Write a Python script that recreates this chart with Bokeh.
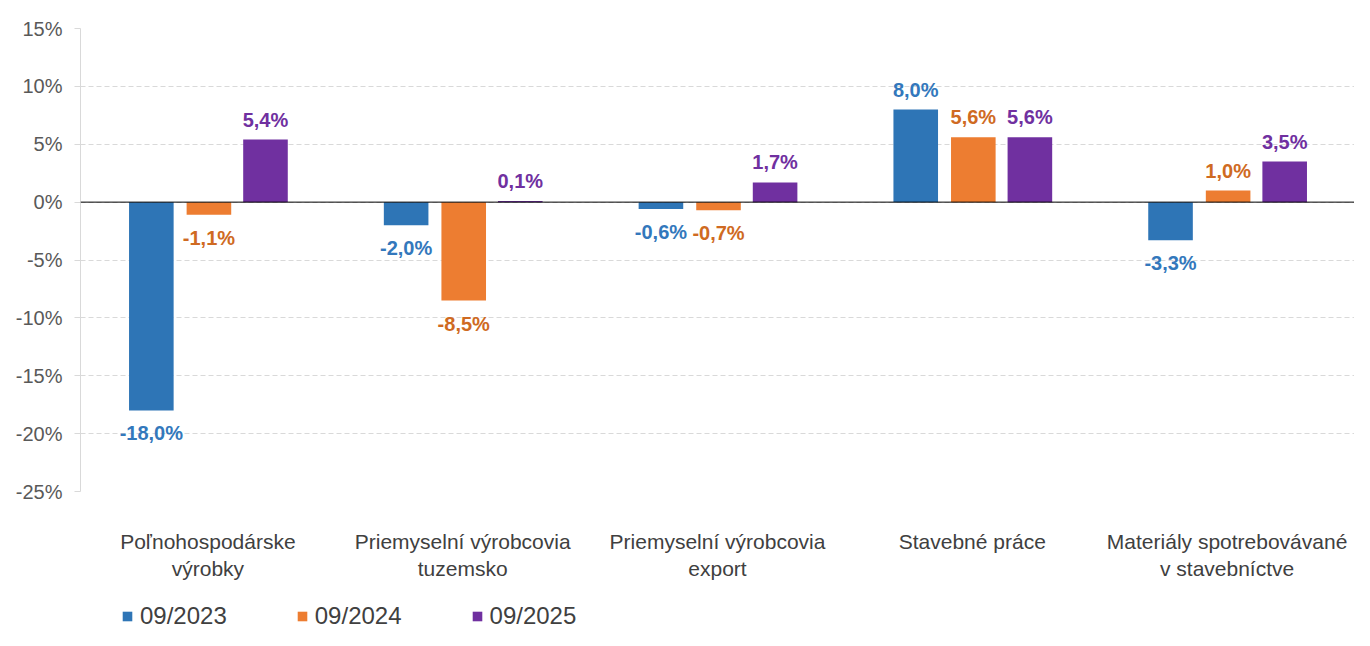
from bokeh.plotting import figure
from bokeh.layouts import column
from bokeh.models import (ColumnDataSource, FactorRange, Range1d, FixedTicker,
                          PrintfTickFormatter, Span, Legend, LegendItem)
from bokeh.transform import dodge
from bokeh.core.properties import value
from bokeh.embed import file_html
from bokeh.resources import INLINE

# ---- data ----
categories = ["Poľnohospodárske\nvýrobky",
              "Priemyselní výrobcovia\ntuzemsko",
              "Priemyselní výrobcovia\nexport",
              "Stavebné práce",
              "Materiály spotrebovávané\nv stavebníctve"]
series_names = ["09/2023", "09/2024", "09/2025"]
values_2023 = [-18.0, -2.0, -0.6, 8.0, -3.3]
values_2024 = [-1.1, -8.5, -0.7, 5.6, 1.0]
values_2025 = [5.4, 0.1, 1.7, 5.6, 3.5]
y_ticks = [-25, -20, -15, -10, -5, 0, 5, 10, 15]

series_values = [values_2023, values_2024, values_2025]
bar_colors = ["#2E75B6", "#ED7D31", "#7030A0"]
label_colors = ["#3378BC", "#CF6A22", "#7030A0"]
offsets = [-0.222, 0.004, 0.226]

FONT = "Liberation Sans"

x_range = FactorRange(factors=categories)
p = figure(width=1354, height=600, output_backend="svg", toolbar_location=None,
           x_range=x_range, y_range=Range1d(-25, 15),
           min_border_left=80, min_border_right=0, min_border_top=28,
           min_border_bottom=109)
p.outline_line_color = None
p.background_fill_color = "white"
p.border_fill_color = "white"

# ---- legend strip below the chart (shares the x range) ----
pl = figure(width=1354, height=30, output_backend="svg", toolbar_location=None,
            min_border_left=80, min_border_right=0, min_border_top=0,
            min_border_bottom=0, x_range=x_range, y_range=Range1d(100, 101))
pl.axis.visible = False
pl.grid.visible = False
pl.outline_line_color = None

items = []
for vals, name, bc, lc, off in zip(series_values, series_names, bar_colors,
                                   label_colors, offsets):
    src = ColumnDataSource(dict(
        cat=categories,
        val=vals,
        lbl=[f"{v:.1f}".replace(".", ",") + "%" for v in vals],
        yoff=[-20 if v >= 0 else 23 for v in vals],
    ))
    p.vbar(x=dodge("cat", off, range=x_range), top="val", bottom=0,
           width=0.175, source=src, fill_color=bc, line_color=None)
    p.text(x=dodge("cat", off, range=x_range), y="val", text="lbl",
           y_offset="yoff", source=src, text_align="center",
           text_baseline="middle", text_font=value(FONT),
           text_font_size="20px", text_font_style="bold", text_color=lc)
    # same bars in the legend strip (outside its visible y range) as legend proxies
    r = pl.vbar(x=dodge("cat", off, range=x_range), top="val", bottom=0,
                width=0.175, source=src, fill_color=bc, line_color=None)
    items.append(LegendItem(label=name, renderers=[r]))

# zero line
p.add_layout(Span(location=0, dimension="width", line_color="black",
                  line_width=1))

# y axis
p.yaxis.ticker = FixedTicker(ticks=y_ticks)
p.yaxis.formatter = PrintfTickFormatter(format="%d%%")
p.yaxis.axis_line_color = "#D9D9D9"
p.yaxis.major_tick_line_color = "#D9D9D9"
p.yaxis.major_tick_out = 6
p.yaxis.major_tick_in = 0
p.yaxis.minor_tick_line_color = None
p.yaxis.major_label_text_font = FONT
p.yaxis.major_label_text_font_size = "20px"
p.yaxis.major_label_text_color = "#595959"
p.yaxis.major_label_standoff = 12

# x axis
p.xaxis.axis_line_color = None
p.xaxis.major_tick_line_color = None
p.xaxis.major_tick_out = 0
p.xaxis.major_label_text_font = FONT
p.xaxis.major_label_text_font_size = "21px"
p.xaxis.major_label_text_color = "#404040"
p.xaxis.major_label_standoff = 38
p.xaxis.major_label_orientation = "horizontal"

# grid
p.xgrid.grid_line_color = None
p.ygrid.grid_line_color = "#D9D9D9"
p.ygrid.grid_line_dash = "5 3"
p.ygrid.grid_line_width = 1

lg = Legend(items=items, orientation="horizontal", location=(41, 0),
            border_line_color=None, background_fill_alpha=0, padding=0,
            margin=0, spacing=69, glyph_width=12, glyph_height=12,
            label_standoff=7, label_text_font=FONT,
            label_text_font_size="24px", label_text_color="#404040",
            label_height=18)
pl.add_layout(lg)

open("out.html", "w").write(file_html(column(p, pl, spacing=0), INLINE))
